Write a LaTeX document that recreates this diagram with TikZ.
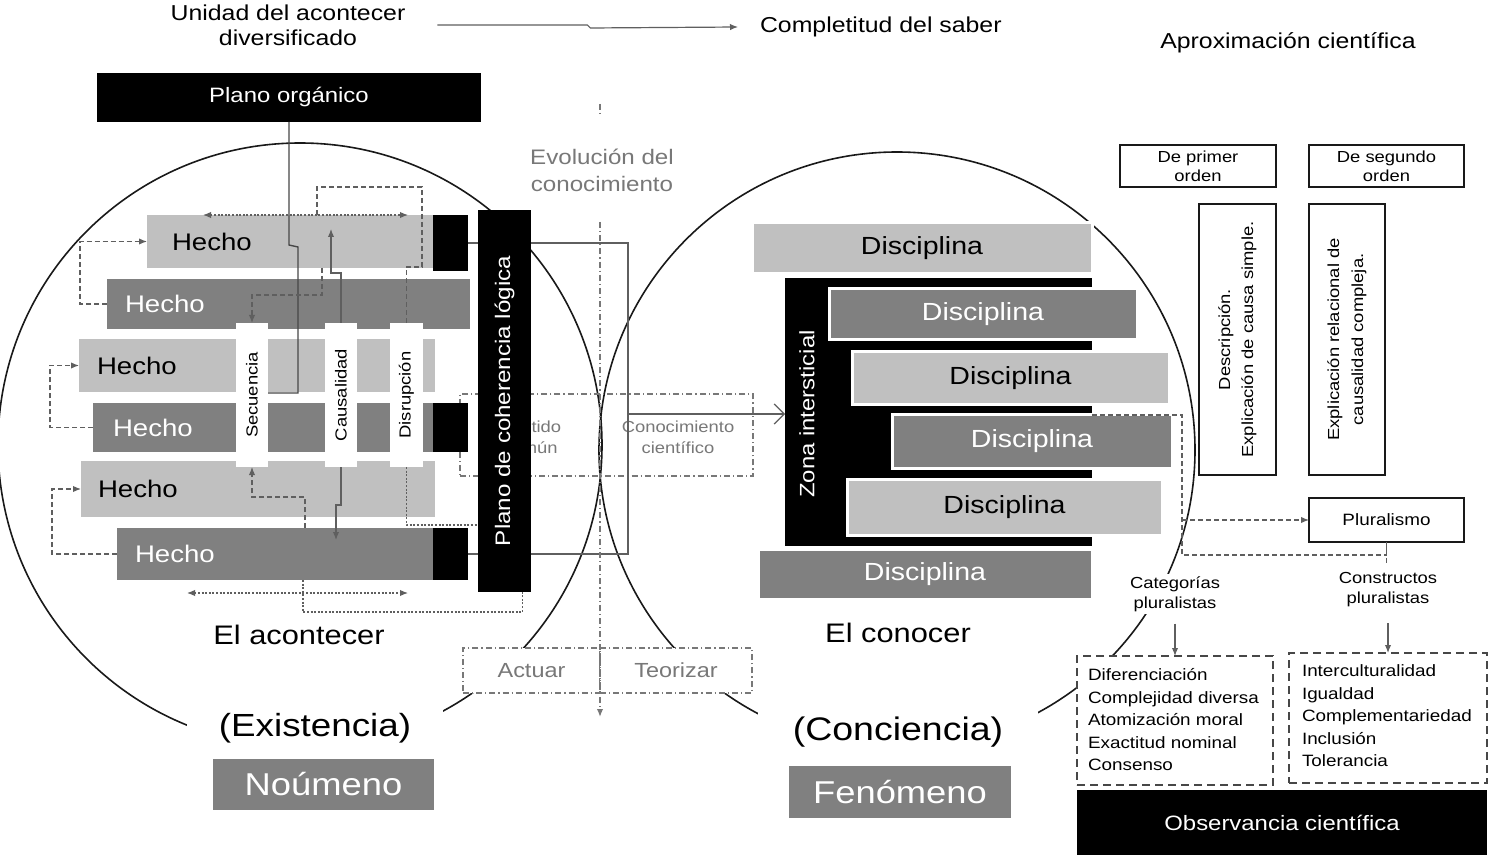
\documentclass[tikz,border=0pt]{standalone}
\usepackage{fontspec}
\setmainfont[FakeStretch=1.15]{Liberation Sans}
\usetikzlibrary{arrows.meta}
\definecolor{lightg}{RGB}{192,192,192}
\definecolor{darkg}{RGB}{128,128,128}
\definecolor{txtg}{RGB}{120,120,120}
\definecolor{lineg}{RGB}{95,95,95}
\definecolor{ink}{RGB}{25,25,25}
\newcommand\rbox[7]{\node[#6, minimum width={(#4-(#2))*0.5pt}, minimum height={(#5-(#3))*0.5pt}] (#1) at ({(#2+#4)/2},{(#3+#5)/2}) {#7};}
\newcommand\fsz[2]{\fontsize{#1}{#2}\selectfont}
\tikzset{
  bx/.style={rectangle, inner sep=0pt, outer sep=0pt},
  lightbox/.style={bx, fill=lightg},
  darkbox/.style={bx, fill=darkg},
  blackbox/.style={bx, fill=black},
  whitebox/.style={bx, fill=white},
  framebox/.style={bx, draw=ink, line width=0.8pt, fill=white},
  dashbox/.style={bx, draw=ink!80, line width=0.9pt, dash pattern=on 4pt off 2.5pt, fill=white},
  ddbox/.style={bx, draw=txtg, line width=0.7pt, dash pattern=on 3pt off 1.5pt on 0.6pt off 1.5pt},
  discbox/.style={bx, draw=white, line width=1.5pt, font=\fsz{12.4}{14}},
  lbl/.style={inner sep=0pt, outer sep=0pt},
  hecho/.style={lbl, anchor=west, font=\fsz{12}{14}},
  rotlbl/.style={lbl, rotate=90, font=\fsz{8}{10}},
  sconn/.style={draw=lineg, line width=0.6pt},
  dconn/.style={draw=lineg, line width=0.6pt, dash pattern=on 2.5pt off 1.5pt},
  dotconn/.style={draw=lineg, line width=0.6pt, dash pattern=on 1pt off 0.8pt},
  ddline/.style={draw=txtg, line width=0.7pt, dash pattern=on 3pt off 1.5pt on 0.6pt off 1.5pt},
  arrowend/.style={-{Latex[length=4pt,width=3.2pt]}},
  lobe/.style={circle, draw=ink, line width=0.8pt, inner sep=0pt, outer sep=0pt},
}
\begin{document}
\begin{tikzpicture}[x=0.5pt, y=-0.5pt]
\fill[white] (0,0) rectangle (1488,855);
\useasboundingbox (0,0) rectangle (1488,855);

% the two lobes
\node[lobe, minimum size=302pt] (lobeL) at (300,445) {};
\node[lobe, minimum size=298pt] (lobeR) at (897,450) {};

% top labels
\node[lbl, align=center, font=\fsz{10.8}{12.5}] (unidad) at (288,25) {Unidad del acontecer\\diversificado};
\node[lbl, anchor=west, font=\fsz{10.8}{12.5}] (compl) at (760,27) {Completitud del saber};
\draw[sconn, arrowend] ([xshift=16pt]unidad.east) -- ++(150,0) -- ++(3,3) -- ([xshift=-11pt]compl.west);
\node[lbl, font=\fsz{10.8}{12.5}] (aprox) at (1288,43) {Aproximación científica};

% Plano organico
\rbox{porg}{97}{73}{481}{122}{blackbox, text=white, font=\fsz{10.4}{12}}{Plano orgánico}

% conocimiento box (behind)
\rbox{cbox}{460}{394}{753}{476}{ddbox}{}
\node[lbl, text=txtg, align=center, font=\fsz{8}{10.5}] (sent) at (530,437) {Sentido\\común};
\node[lbl, text=txtg, align=center, font=\fsz{8}{10.5}] (ccien) at (678,437) {Conocimiento\\científico};

% Hecho boxes
\rbox{h1}{147}{215}{433}{268}{lightbox}{}
\rbox{h2}{107}{279}{470}{329}{darkbox}{}
\rbox{h3}{79}{339}{435}{392}{lightbox}{}
\rbox{h4}{93}{403}{433}{452}{darkbox}{}
\rbox{h5}{81}{461}{435}{517}{lightbox}{}
\rbox{h6}{117}{528}{433}{580}{darkbox}{}
\rbox{sq1}{433}{215}{468}{271}{blackbox}{}
\rbox{sq4}{433}{403}{468}{452}{blackbox}{}
\rbox{sq6}{433}{528}{468}{580}{blackbox}{}
\node[hecho] (t1) at ([xshift=12.5pt]h1.west) {Hecho};
\node[hecho, text=white] (t2) at ([xshift=9pt]h2.west) {Hecho};
\node[hecho] (t3) at ([xshift=9pt]h3.west) {Hecho};
\node[hecho, text=white] (t4) at ([xshift=10pt]h4.west) {Hecho};
\node[hecho] (t5) at ([xshift=8.5pt]h5.west) {Hecho};
\node[hecho, text=white] (t6) at ([xshift=9pt]h6.west) {Hecho};

% white strips
\rbox{sec}{236}{323}{268}{467}{whitebox}{}
\rbox{cau}{325}{323}{357}{467}{whitebox}{}
\rbox{dis}{390}{323}{423}{467}{whitebox}{}
\node[rotlbl] (sect) at (sec) {Secuencia};
\node[rotlbl] (caut) at (cau) {Causalidad};
\node[rotlbl] (dist) at (dis) {Disrupción};

% line from Plano organico
\draw[draw=ink!80, line width=0.7pt] (porg.south) -- ++(0,123) -- ++(9,2) -- ++(0,146) -- ++(-30,0);

% connectors left
\draw[dconn, arrowend] (h2.west) -- ++(-27,0) |- (h1.west);
\draw[dconn, arrowend] (h4.west) -- ++(-43,0) |- (h3.west);
\draw[dconn, arrowend] (h6.west) -- ++(-65,0) |- (h5.west);
\draw[dotconn, {Latex[length=4pt,width=3.2pt]}-{Latex[length=4pt,width=3.2pt]}] ([xshift=28pt]h1.north west) -- ([xshift=-12.5pt]h1.north east);
\draw[dotconn, {Latex[length=4pt,width=3.2pt]}-{Latex[length=4pt,width=3.2pt]}] ([xshift=35pt,yshift=-6.5pt]h6.south west) -- ([xshift=-12.5pt,yshift=-6.5pt]h6.south east);
\draw[dconn] ([xshift=85pt]h1.north west) -- ++(0,-28) -- ++(105,0) -- ++(0,80) -| (dis.north);
\coordinate (cauup) at (331,229);
\coordinate (caudn) at (336,540);
\draw[sconn, arrowend] (cau.north) -- ++(0,-50) -| (cauup);
\draw[sconn, arrowend] (cau.south) -- ++(0,38) -| (caudn);
\draw[dconn, arrowend] ([xshift=87.5pt]h1.south west) -- ++(0,27) -| (sec.north);
\draw[dconn, arrowend] ([xshift=94pt]h6.north west) -- ++(0,-31) -| (sec.south);

% bracket right of plano
\draw[sconn] (sq1.east) -- ++(160,0) |- (sq6.east);

% Plano de coherencia
\rbox{plano}{478}{210}{531}{592}{blackbox}{}
\node[lbl, rotate=90, text=white, font=\fsz{10.5}{12}] (planot) at (plano) {Plano de coherencia lógica};
\draw[dotconn] (dis.south) |- ([yshift=-62pt]plano.west);
\draw[dotconn] ([xshift=93pt]h6.south west) -- ++(0,32) -| ([xshift=9pt]plano.south);

% Disciplinas
\rbox{zona}{785}{278}{1092}{546}{blackbox}{}
\rbox{d1}{752}{223}{1092}{274}{discbox, fill=lightg}{Disciplina}
\rbox{d2}{829}{289}{1137}{340}{discbox, fill=darkg, text=white}{Disciplina}
\rbox{d3}{852}{352}{1169}{405}{discbox, fill=lightg}{Disciplina}
\rbox{d4}{892}{415}{1172}{468}{discbox, fill=darkg, text=white}{Disciplina}
\rbox{d5}{847}{479}{1162}{535}{discbox, fill=lightg}{Disciplina}
\rbox{d6}{758}{549}{1092}{599}{discbox, fill=darkg, text=white}{Disciplina}
\node[lbl, rotate=90, text=white, font=\fsz{10.4}{12}] (zonat) at (807,414) {Zona intersticial};
\coordinate (brk) at (628,414);
\draw[sconn, -{Straight Barb[length=5pt]}] (brk) -- (zona.west |- brk);

% right boxes
\rbox{prim}{1120}{145}{1276}{187}{framebox, align=center, font=\fsz{8}{9.5}}{De primer\\orden}
\rbox{segu}{1309}{145}{1464}{187}{framebox, align=center, font=\fsz{8}{9.5}}{De segundo\\orden}
\rbox{tb1}{1199}{204}{1276}{475}{framebox}{}
\rbox{tb2}{1309}{204}{1385}{475}{framebox}{}
\node[lbl, rotate=90, align=center, font=\fsz{8}{11.5}] (tb1t) at (tb1) {Descripción.\\Explicación de causa simple.};
\node[lbl, rotate=90, align=center, font=\fsz{8}{12}] (tb2t) at (tb2) {Explicación relacional de\\causalidad compleja.};
\rbox{plur}{1309}{498}{1464}{542}{framebox, font=\fsz{8.2}{10}}{Pluralismo}

\draw[dconn] ([xshift=-40pt]d4.north east) -- ++(90,0) -- ++(0,140) -| (plur.south);
\draw[dconn] (plur.south) -- ++(0,22);
\coordinate (pj) at (1182,520);
\draw[dconn, arrowend] (pj) -- (plur.west);

\node[lbl, fill=white, inner sep=1pt, align=center, font=\fsz{8}{10}] (catp) at (1175,594) {Categorías\\pluralistas};
\node[lbl, align=center, font=\fsz{8}{10}] (constr) at (1388,590) {Constructos\\pluralistas};

\rbox{boxa}{1077}{656}{1273}{785}{dashbox}{}
\rbox{boxb}{1289}{653}{1487}{783}{dashbox}{}
\node[lbl, anchor=west, align=left, font=\fsz{8.2}{11.25}] (lista) at (1088,720) {Diferenciación\\Complejidad diversa\\Atomización moral\\Exactitud nominal\\Consenso};
\node[lbl, anchor=west, align=left, font=\fsz{8.2}{11.25}] (listb) at (1302,716) {Interculturalidad\\Igualdad\\Complementariedad\\Inclusión\\Tolerancia};
\draw[sconn, arrowend, shorten <=5pt] (catp.south) -- (boxa.north);
\draw[sconn, arrowend, shorten <=8pt] (constr.south) -- (boxb.north);
\rbox{obs}{1077}{790}{1487}{855}{blackbox, text=white, font=\fsz{10.4}{12}}{Observancia científica}

% bottom labels
\node[lbl, font=\fsz{13.4}{16}] (acon) at (299,635) {El acontecer};
\node[lbl, font=\fsz{13.4}{16}] (conoc) at (898,633) {El conocer};
\node[lbl, fill=white, minimum width=128pt, minimum height=26pt, font=\fsz{16}{19}] (exist) at (315,728) {(Existencia)};
\node[lbl, fill=white, minimum width=140pt, minimum height=29pt, font=\fsz{16.3}{19}] (conc) at (898,732) {(Conciencia)};
\rbox{noum}{213}{759}{434}{810}{darkbox, text=white, font=\fsz{15.8}{18}}{Noúmeno}
\rbox{feno}{789}{766}{1011}{818}{darkbox, text=white, font=\fsz{15.8}{18}}{Fenómeno}

% actuar / teorizar
\rbox{act}{463}{648}{600}{693}{ddbox, fill=white, text=txtg, font=\fsz{10.2}{12}}{Actuar}
\rbox{teo}{600}{648}{752}{693}{ddbox, fill=white, text=txtg, font=\fsz{10.2}{12}}{Teorizar}

% vertical evolution axis
\node[lbl, fill=white, text=txtg, align=center, font=\fsz{10.5}{13.5}] (evol) at (602,170) {Evolución del\\conocimiento};
\coordinate (vtick1) at (600,104);
\coordinate (vtick2) at (600,116);
\coordinate (vtop) at (600,222);
\coordinate (vbot) at (600,717);
\draw[ddline] (vtick1) -- (vtick2);
\draw[ddline, -{Latex[length=4pt,width=3.2pt]}] (vtop) -- (vbot);
\end{tikzpicture}
\end{document}
